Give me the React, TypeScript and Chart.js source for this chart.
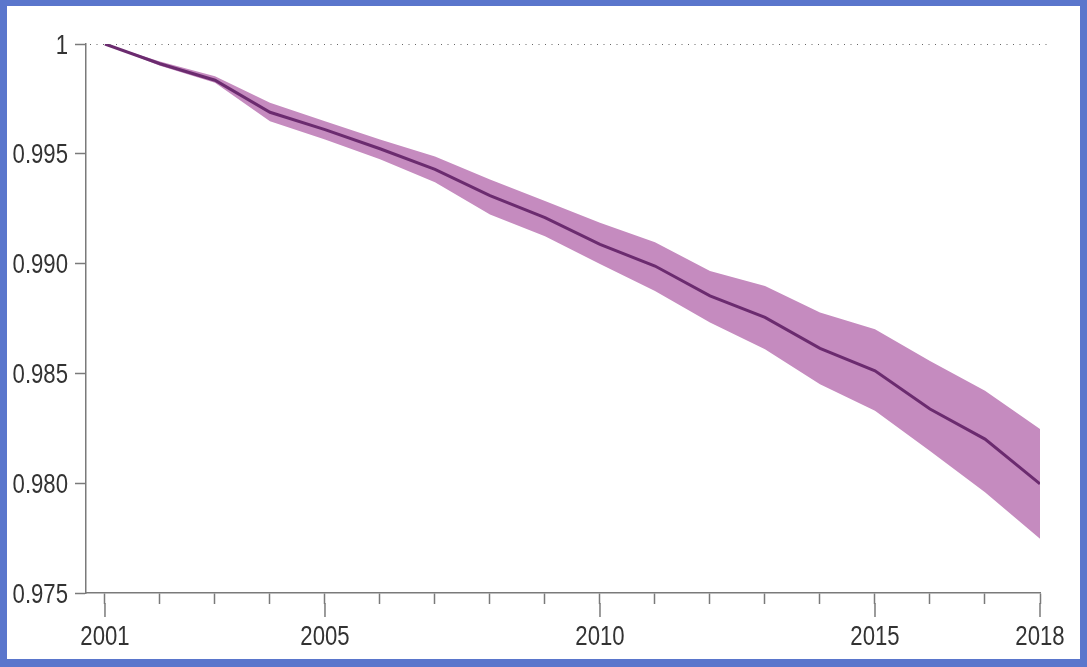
import React, { useEffect, useRef } from "react";
import { Chart, registerables } from "chart.js";

Chart.register(...registerables);

const years = [2001, 2002, 2003, 2004, 2005, 2006, 2007, 2008, 2009, 2010, 2011, 2012, 2013, 2014, 2015, 2016, 2017, 2018];
const meanValues = [1.0, 0.9991, 0.99835, 0.99689, 0.9961, 0.99523, 0.99429, 0.9931, 0.99209, 0.99088, 0.98989, 0.98853, 0.98755, 0.98614, 0.98512, 0.98338, 0.98201, 0.97997];
const upperValues = [1.0, 0.9992, 0.99853, 0.99732, 0.99648, 0.99565, 0.99488, 0.99383, 0.99285, 0.99186, 0.99097, 0.98966, 0.98898, 0.98777, 0.98701, 0.98556, 0.98421, 0.98247];
const lowerValues = [1.0, 0.99901, 0.99823, 0.99648, 0.99565, 0.99475, 0.9937, 0.99224, 0.99125, 0.98998, 0.98875, 0.98732, 0.9861, 0.98451, 0.9833, 0.98147, 0.97959, 0.97747];
const xLabelYears = [2001, 2005, 2010, 2015, 2018];
const yTickValues = [0.975, 0.98, 0.985, 0.99, 0.995, 1];
const yTickLabels = ["0.975", "0.980", "0.985", "0.990", "0.995", "1"];

const FONT = "'Liberation Sans', Arial, sans-serif";
const FONT_SIZE = 27;
const NARROW = 0.82;
const AXIS_COLOR = "#7a7a7a";
const TEXT_COLOR = "#333333";

function drawNarrow(ctx: CanvasRenderingContext2D, text: string, x: number, y: number, align: CanvasTextAlign) {
  ctx.save();
  ctx.translate(x, y);
  ctx.scale(NARROW, 1);
  ctx.textAlign = align;
  ctx.textBaseline = "alphabetic";
  ctx.fillText(text, 0, 0);
  ctx.restore();
}

const extrasPlugin = {
  id: "extras",
  afterDraw(chart: any) {
    const { ctx, scales } = chart;
    const x = scales.x;
    const y = scales.y;
    ctx.save();
    // dotted reference line at 1
    const y1 = y.getPixelForValue(1);
    ctx.strokeStyle = "#666";
    ctx.lineWidth = 1;
    ctx.setLineDash([1, 5.5]);
    ctx.beginPath();
    ctx.moveTo(x.left + 4, y1 + 0.5);
    ctx.lineTo(x.right + 7, y1 + 0.5);
    ctx.stroke();
    ctx.setLineDash([]);
    // longer ticks at labelled years
    ctx.strokeStyle = AXIS_COLOR;
    ctx.lineWidth = 1.5;
    for (const yr of xLabelYears) {
      const px = x.getPixelForValue(yr);
      ctx.beginPath();
      ctx.moveTo(px, x.top + 10);
      ctx.lineTo(px, x.top + 24);
      ctx.stroke();
    }
    // tick labels
    ctx.fillStyle = TEXT_COLOR;
    ctx.font = `${FONT_SIZE}px ${FONT}`;
    const capHalf = FONT_SIZE * 0.716 / 2;
    yTickValues.forEach((v, i) => {
      const py = y.getPixelForValue(v);
      drawNarrow(ctx, yTickLabels[i], y.right - 18, py + capHalf, "right");
    });
    for (const yr of xLabelYears) {
      const px = x.getPixelForValue(yr);
      drawNarrow(ctx, String(yr), px, x.top + 52, "center");
    }
    ctx.restore();
  },
};

export default function App() {
  const canvasRef = useRef<HTMLCanvasElement | null>(null);

  useEffect(() => {
    if (!canvasRef.current) return;
    const toPts = (vals: number[]) => years.map((yr, i) => ({ x: yr, y: vals[i] }));
    const chart = new Chart(canvasRef.current, {
      type: "line",
      data: {
        datasets: [
          {
            label: "mean",
            data: toPts(meanValues),
            borderColor: "#6b2b6f",
            borderWidth: 3,
            pointRadius: 0,
            fill: false,
            tension: 0,
          },
          {
            label: "lower",
            data: toPts(lowerValues),
            borderColor: "rgba(0,0,0,0)",
            borderWidth: 0,
            pointRadius: 0,
            fill: false,
          },
          {
            label: "upper",
            data: toPts(upperValues),
            borderColor: "rgba(0,0,0,0)",
            borderWidth: 0,
            pointRadius: 0,
            backgroundColor: "#c58bbf",
            fill: "-1",
          },
        ],
      },
      options: {
        animation: false,
        responsive: false,
        maintainAspectRatio: false,
        layout: { padding: { left: 0, top: 44, right: 47, bottom: 0 } },
        plugins: { legend: { display: false }, tooltip: { enabled: false } },
        scales: {
          x: {
            type: "linear",
            min: 2000.655,
            max: 2018,
            afterBuildTicks: (scale: any) => {
              scale.ticks = years.map((v) => ({ value: v }));
            },
            afterFit: (scale: any) => {
              scale.height = 74;
            },
            ticks: { display: false },
            grid: {
              display: true,
              drawOnChartArea: false,
              drawTicks: true,
              tickLength: 11,
              tickColor: AXIS_COLOR,
              tickWidth: 1.5,
            },
            border: { display: true, color: AXIS_COLOR, width: 1.5 },
          },
          y: {
            type: "linear",
            min: 0.975,
            max: 1,
            afterBuildTicks: (scale: any) => {
              scale.ticks = yTickValues.map((v) => ({ value: v }));
            },
            afterFit: (scale: any) => {
              scale.width = 86;
            },
            ticks: { display: false },
            grid: {
              display: true,
              drawOnChartArea: false,
              drawTicks: true,
              tickLength: 11,
              tickColor: AXIS_COLOR,
              tickWidth: 1.5,
            },
            border: { display: true, color: AXIS_COLOR, width: 1.5 },
          },
        },
      },
      plugins: [extrasPlugin],
    } as any);
    return () => chart.destroy();
  }, []);

  return (
    <div style={{ position: "absolute", left: 0, top: 0, width: 1087, height: 667, background: "#5a76cc" }}>
      <div style={{ position: "absolute", left: 7, top: 6, width: 1073, height: 653, background: "#ffffff" }} />
      <canvas ref={canvasRef} width={1087} height={667} style={{ position: "absolute", left: 0, top: 0, width: 1087, height: 667 }} />
    </div>
  );
}
